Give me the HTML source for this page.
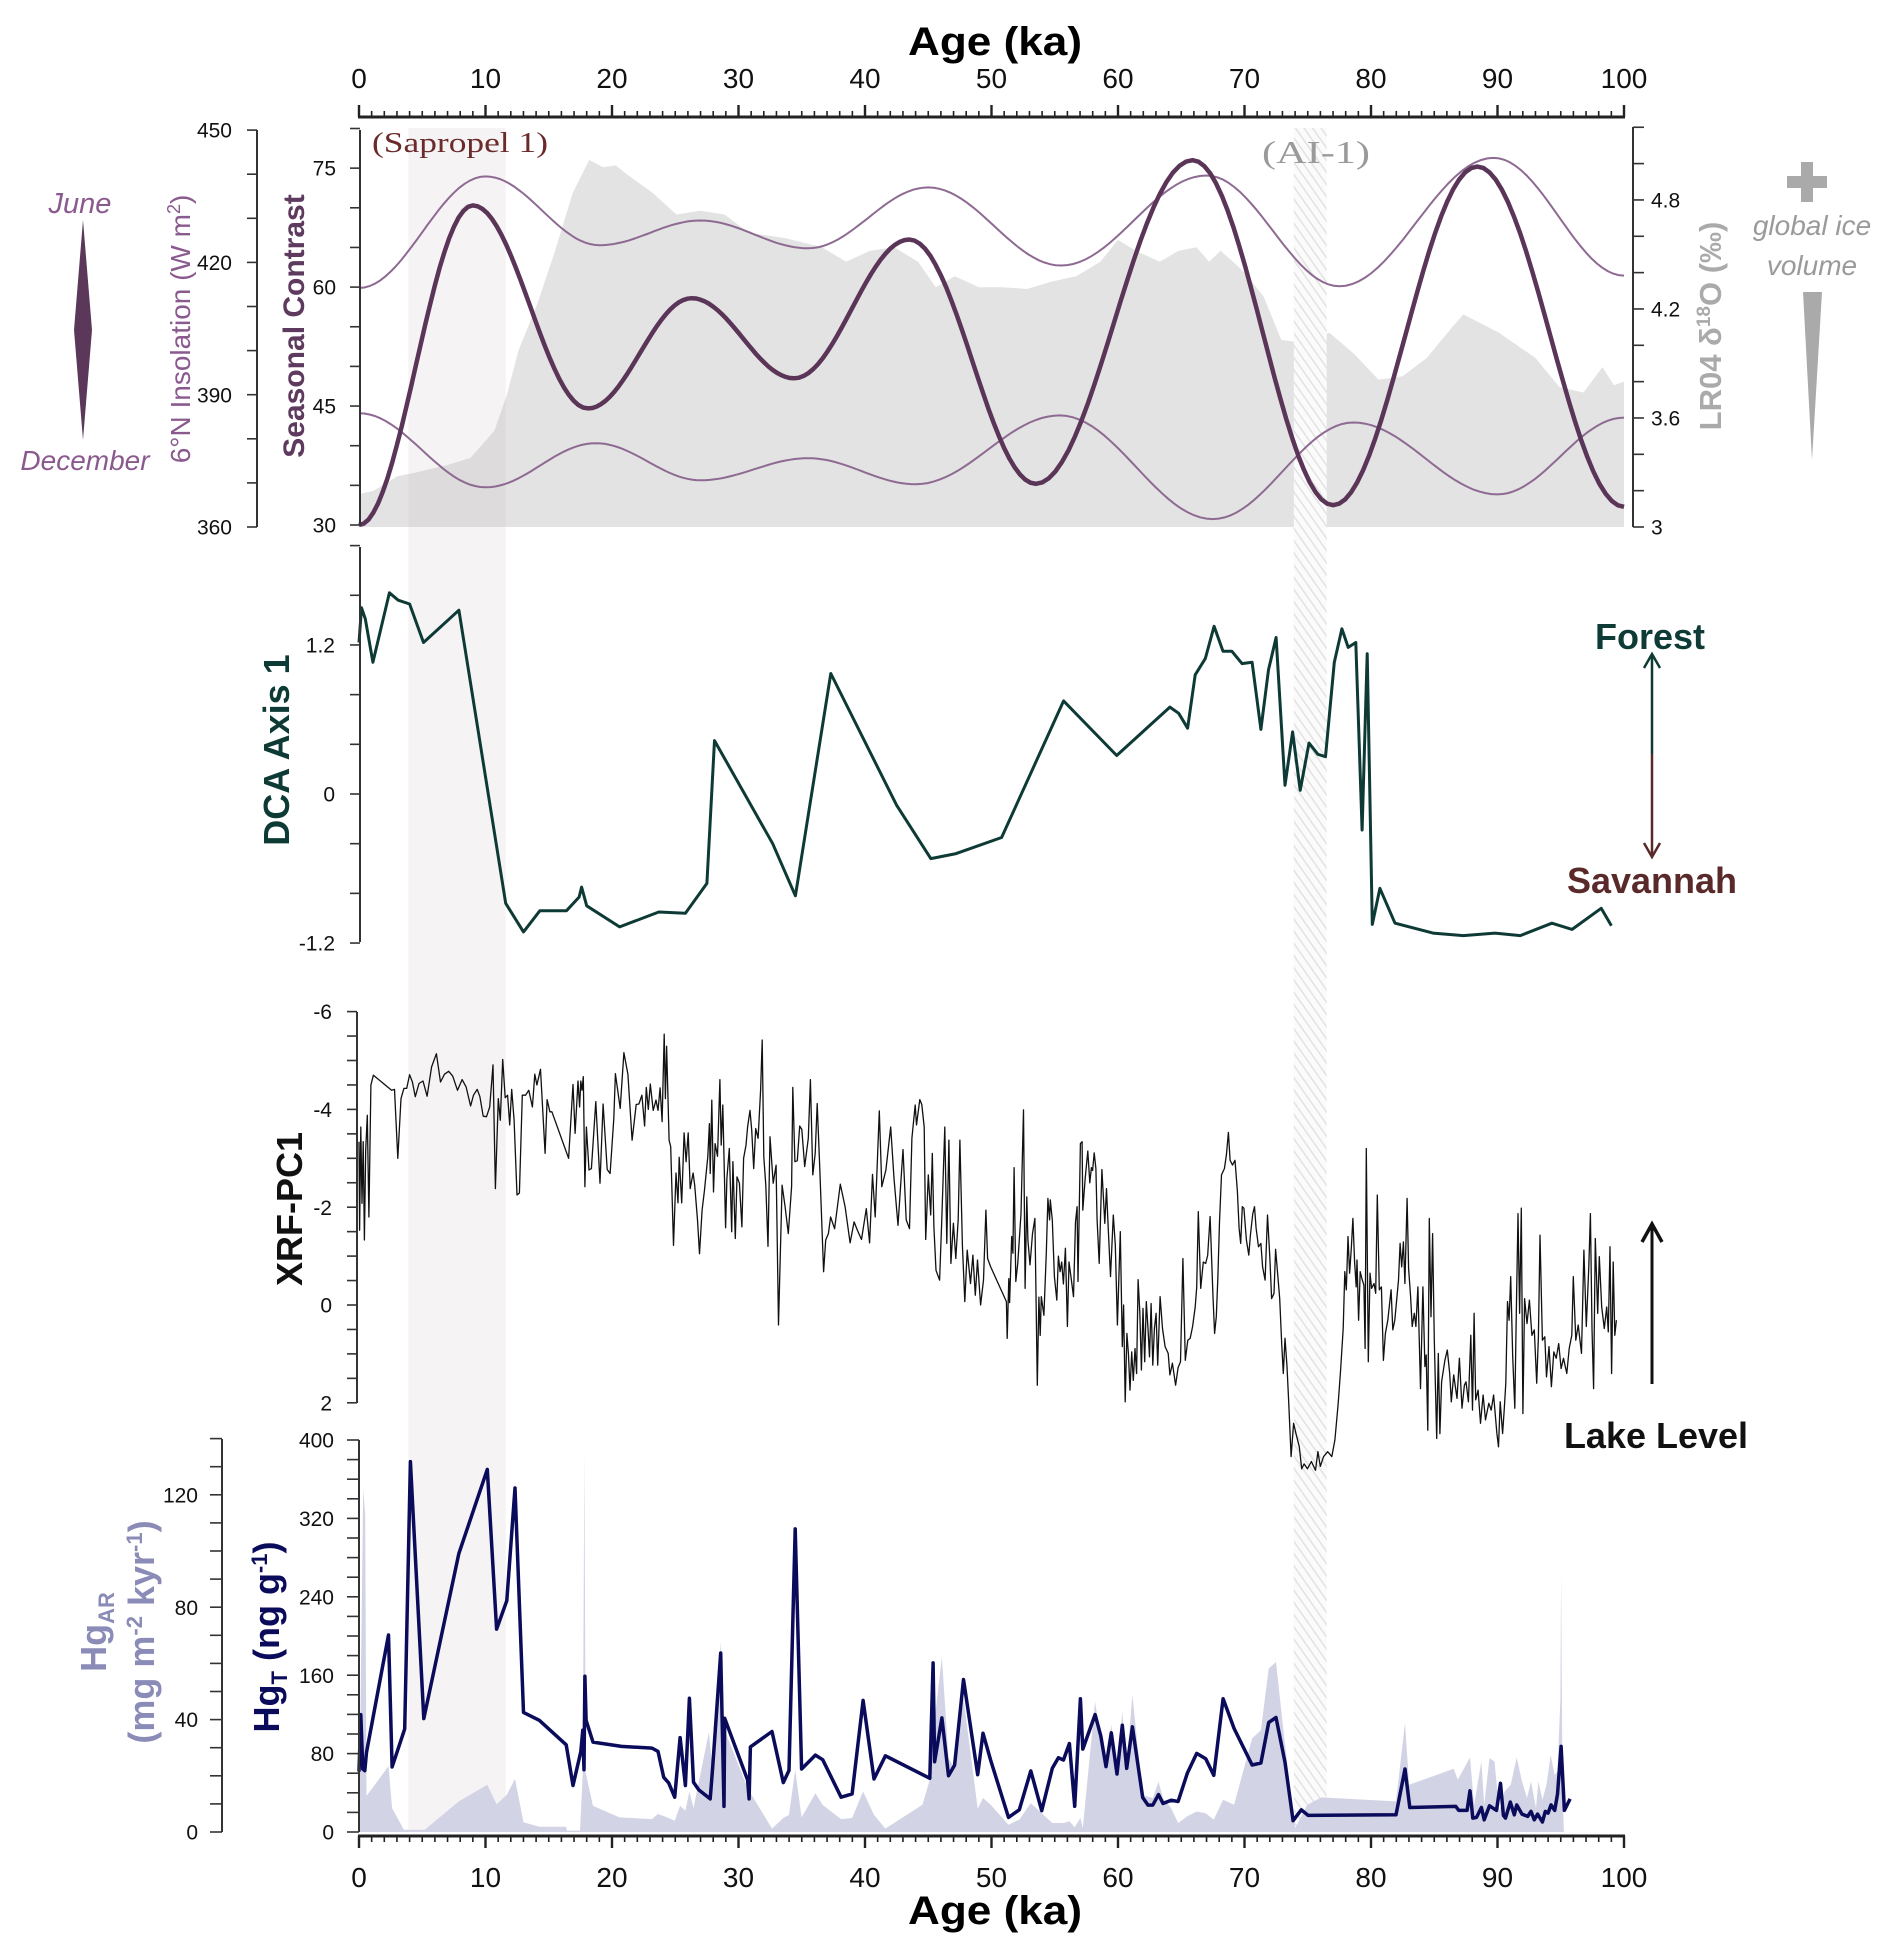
<!DOCTYPE html>
<html><head><meta charset="utf-8"><title>Paleoclimate record</title>
<style>
html,body{margin:0;padding:0;background:#fff;}
svg{display:block;font-family:"Liberation Sans",Arial,sans-serif;}
</style></head>
<body>
<svg id="fig" xmlns="http://www.w3.org/2000/svg" width="1892" height="1957" viewBox="0 0 1892 1957">
<defs>
<pattern id="hatch" patternUnits="userSpaceOnUse" width="7" height="7" patternTransform="rotate(-35)">
<rect width="7" height="7" fill="#fbfbfb"/><line x1="0" y1="0" x2="0" y2="7" stroke="#e2e2e2" stroke-width="3"/>
</pattern>
</defs>
<g id="bg"></g>
<g id="marks"></g>
<g id="axes"></g>
<g id="labels"></g>
</svg>
<script>
// ---------- Top panel data ----------
const lrAges = [0,1.15,3.06,4.5,6.9,8.8,10.7,11.7,12.6,14.1,15.5,16.9,18.2,19.3,20.3,21.2,23.2,25.1,27.0,28.9,30.8,33.7,36.6,38.5,40.4,42.3,44.2,45.6,47.1,49.0,50.9,52.8,54.7,56.7,58.6,60.0,61.4,63.3,64.8,66.2,67.2,68.1,69.1,70.0,71.5,72.9,74.8,76.7,78.7,80.6,82.5,84.4,86.3,87.3,90.1,93.0,94.9,96.8,98.3,99.2,100];
const lrVals = [3.18,3.20,3.28,3.30,3.34,3.38,3.53,3.73,3.97,4.23,4.52,4.84,5.02,4.98,4.99,4.94,4.84,4.72,4.74,4.72,4.62,4.59,4.54,4.46,4.52,4.54,4.46,4.32,4.38,4.32,4.32,4.31,4.35,4.38,4.46,4.58,4.52,4.46,4.52,4.54,4.46,4.52,4.46,4.40,4.27,4.03,4.01,4.07,3.95,3.81,3.83,3.93,4.09,4.17,4.07,3.93,3.77,3.74,3.88,3.78,3.80];
const juneAges = [0,10,19,27,35.5,45,55.5,67,77.5,89.7,100];
const juneVals = [414.2,439.5,423.9,429.5,423.2,437,419.3,439.7,414.6,443.7,417];
const decAges = [0,10,18.7,27,35.5,44,55.4,67.5,78.6,90,100];
const decVals = [385.8,369,379,370.6,375.6,369.7,385.3,361.8,383.7,367.4,384.8];
const scAges = [0,9,18.1,26.3,34.4,43.5,53.5,65.9,77,88.4,100];
const scVals = [30,70.3,44.7,58.6,48.5,66,35.2,76,32.5,75.2,32.3];
// ---------- DCA ----------
const dcaAges = [0,0.2,0.5,1.1,2.4,3.1,4.0,5.1,7.9,11.6,13.0,14.3,16.4,17.4,17.6,18.0,20.6,23.7,25.8,27.5,28.1,32.7,34.5,37.3,42.5,45.2,47.2,50.8,55.7,59.9,64.1,64.8,65.5,66.1,66.9,67.6,68.3,69.0,69.8,70.6,71.3,71.9,72.5,73.2,73.8,74.4,75.1,75.8,76.4,77.1,77.7,78.2,78.8,79.3,79.7,80.1,80.7,81.9,84.9,87.3,89.8,91.8,94.3,95.9,98.2,99.0];
const dcaVals = [1.22,1.5,1.41,1.06,1.62,1.56,1.53,1.22,1.48,-0.88,-1.11,-0.94,-0.94,-0.83,-0.75,-0.9,-1.07,-0.95,-0.96,-0.72,0.43,-0.4,-0.82,0.97,-0.09,-0.52,-0.48,-0.35,0.75,0.31,0.7,0.65,0.53,0.96,1.09,1.35,1.15,1.15,1.05,1.06,0.52,1.0,1.26,0.07,0.5,0.03,0.41,0.32,0.3,1.06,1.33,1.18,1.22,-0.29,1.13,-1.05,-0.76,-1.04,-1.12,-1.14,-1.12,-1.14,-1.04,-1.09,-0.92,-1.06];
// ---------- XRF-PC1 ----------
const xrfAges = [0,0.05,0.14,0.24,0.33,0.43,0.53,0.66,0.78,0.94,1.14,2.58,2.81,3.07,3.32,3.55,3.77,4.00,4.22,4.45,4.74,5.06,5.38,5.74,6.12,6.44,6.76,7.09,7.41,7.79,8.15,8.47,8.82,9.05,9.34,9.56,9.82,10.08,10.33,10.59,10.78,11.01,11.17,11.36,11.56,11.75,11.91,12.07,12.26,12.49,12.68,12.91,13.16,13.42,13.71,13.9,14.06,14.35,14.71,14.87,15.09,15.25,16.57,16.92,17.08,17.31,17.44,17.53,17.63,17.73,17.86,17.98,18.18,18.37,18.72,19.05,19.30,19.62,19.85,20.14,20.27,20.65,20.94,21.26,21.59,21.91,22.13,22.36,22.58,22.71,22.87,23.03,23.26,23.48,23.64,23.80,23.96,24.13,24.22,24.32,24.51,24.64,24.86,25.06,25.22,25.31,25.51,25.70,25.86,26.02,26.18,26.41,26.54,26.76,26.92,27.12,27.31,27.57,27.70,27.76,27.89,28.02,28.15,28.34,28.53,28.63,28.76,28.98,29.08,29.27,29.46,29.56,29.75,29.88,30.07,30.27,30.40,30.59,30.72,30.91,31.04,31.2,31.36,31.55,31.75,31.87,32.0,32.16,32.33,32.49,32.74,32.97,33.16,33.45,33.68,33.94,34.2,34.29,34.46,34.65,34.84,35.0,35.23,35.52,35.68,35.87,36.06,36.22,36.41,36.73,36.89,37.11,37.28,37.6,38.05,38.43,38.82,39.14,39.4,39.72,40.1,40.36,40.59,40.81,41.13,41.33,41.65,42.03,42.29,42.61,43.0,43.26,43.52,43.71,43.97,44.07,44.33,44.49,44.68,44.8,45.0,45.19,45.32,45.45,45.61,45.9,46.06,46.31,46.47,46.63,46.79,46.99,47.18,47.37,47.5,47.7,47.89,48.08,48.34,48.53,48.72,48.89,49.14,49.37,49.56,49.69,49.94,
51.18,51.24,51.37,51.43,51.6,51.69,51.79,51.92,52.08,52.33,52.53,52.66,52.79,52.88,53.04,53.24,53.43,53.62,53.75,53.85,53.94,54.14,54.33,54.46,54.59,54.65,54.81,54.97,55.16,55.29,55.42,55.55,55.68,55.84,56.0,56.13,56.32,56.48,56.64,56.77,56.84,57.03,57.16,57.22,57.41,57.61,57.77,57.9,57.99,58.12,58.25,58.35,58.51,58.73,58.96,59.09,59.22,59.41,59.63,59.79,59.95,60.18,60.34,60.44,60.57,60.7,60.82,60.95,61.08,61.21,61.34,61.47,61.59,61.72,61.85,61.98,62.11,62.24,62.37,62.49,62.62,62.75,62.88,63.01,63.14,63.33,63.52,63.72,63.97,64.1,64.3,64.55,64.75,64.94,65.13,65.32,65.52,65.71,65.9,66.1,66.22,66.35,66.54,66.74,66.93,67.09,67.28,67.51,67.64,67.77,67.9,68.02,68.18,68.41,68.57,68.73,68.86,69.05,69.25,69.44,69.57,69.7,69.83,69.95,70.15,70.34,70.47,70.66,70.79,70.92,71.11,71.3,71.43,71.63,71.82,72.01,72.14,72.33,72.46,72.62,72.78,72.94,73.07,73.2,73.36,73.49,73.68,73.88,74.07,74.33,74.52,74.71,74.97,75.29,75.61,75.8,75.99,76.25,76.58,76.9,77.15,77.41,77.6,77.8,77.93,78.05,78.18,78.31,78.44,78.57,78.7,78.83,78.89,79.02,79.15,79.31,79.44,79.53,79.63,79.79,79.92,80.05,80.24,80.37,80.5,80.66,80.82,80.98,81.14,81.33,81.59,81.72,81.88,82.17,82.3,82.43,82.56,82.68,82.85,82.97,83.13,83.26,83.42,83.55,83.71,83.91,84.1,84.26,84.36,84.49,84.61,84.74,84.87,85.0,85.19,85.32,85.45,85.58,85.84,86.03,86.22,86.35,86.54,86.8,86.99,87.19,87.38,87.51,87.7,87.89,88.02,88.15,88.28,88.47,88.66,88.86,89.05,89.31,89.5,89.69,89.95,90.08,90.21,90.4,90.53,90.66,90.79,90.92,91.04,91.2,91.37,91.49,91.62,91.75,91.88,92.01,92.14,92.33,92.52,92.72,92.91,93.1,93.23,93.36,93.55,93.74,93.87,94.07,94.26,94.45,94.64,94.84,95.03,95.22,95.48,95.67,95.87,95.99,96.19,96.38,96.64,96.83,97.02,97.22,97.34,97.47,97.6,97.73,97.92,98.05,98.24,98.44,98.63,98.76,98.89,99.02,99.15,99.27,99.4];
const xrfVals = [-3.34,-1.53,-3.64,-2.08,-3.34,-1.33,-3.17,-3.88,-1.80,-4.50,-4.70,-4.39,-4.41,-3.00,-4.22,-4.43,-4.43,-4.71,-4.56,-4.26,-4.53,-4.58,-4.27,-4.87,-5.14,-4.56,-4.72,-4.78,-4.68,-4.39,-4.61,-4.46,-4.07,-4.29,-4.41,-4.26,-3.86,-3.85,-4.05,-4.91,-2.38,-4.22,-3.78,-5.02,-4.24,-4.29,-3.68,-4.41,-3.78,-2.25,-2.29,-4.29,-4.29,-4.39,-4.05,-4.72,-4.50,-4.82,-3.10,-4.20,-3.95,-3.95,-3.00,-4.51,-3.51,-4.58,-4.05,-4.58,-4.39,-4.67,-2.42,-3.64,-2.76,-2.79,-4.16,-2.49,-4.11,-2.77,-2.69,-3.81,-4.73,-4.02,-5.16,-4.72,-3.37,-4.10,-4.11,-4.29,-3.66,-4.45,-4.00,-4.52,-3.98,-4.19,-3.98,-4.44,-3.75,-5.54,-4.22,-5.29,-3.37,-3.24,-1.22,-2.70,-2.09,-3.02,-2.09,-3.52,-2.93,-3.52,-2.38,-2.70,-2.45,-1.74,-1.05,-1.94,-2.35,-3.03,-3.71,-2.69,-4.19,-2.31,-3.30,-3.04,-4.61,-3.27,-4.09,-1.58,-2.59,-3.20,-1.50,-2.93,-1.36,-2.62,-2.49,-1.60,-3.00,-3.27,-3.64,-3.98,-3.58,-2.79,-3.61,-3.41,-4.39,-5.42,-3.03,-2.45,-1.20,-3.44,-2.49,-2.86,0.41,-2.45,-2.01,-1.46,-2.42,-4.45,-2.93,-2.95,-3.66,-3.59,-2.83,-3.41,-4.61,-2.66,-3.10,-4.12,-2.89,-0.68,-1.33,-1.46,-1.80,-1.56,-2.47,-2.01,-1.27,-1.70,-1.53,-1.34,-1.97,-1.27,-2.67,-1.80,-3.97,-2.42,-2.76,-3.64,-2.59,-1.63,-3.18,-1.74,-1.56,-3.41,-4.09,-3.68,-4.20,-4.10,-3.64,-1.34,-2.66,-1.84,-3.10,-1.60,-0.71,-0.51,-1.70,-3.64,-1.26,-3.37,-0.85,-1.67,-0.95,-1.75,-3.37,-1.22,-0.07,-1.12,-0.44,-1.02,-0.20,-0.92,0.00,-0.51,-1.94,-0.95,-0.78,
-0.07,0.68,-0.54,-0.05,-1.40,-1.06,-2.81,-0.48,-0.86,-1.87,-3.99,-0.34,-2.21,-1.33,-0.82,-1.46,-1.77,1.64,-0.16,0.62,-0.17,0.21,-1.06,-2.18,-1.74,-2.15,-1.74,-0.58,-0.10,-1.00,-0.68,-0.88,-0.43,-1.16,0.44,-0.88,-0.51,-0.17,-1.70,-2.01,-0.48,-3.30,-3.34,-1.94,-2.59,-3.15,-2.50,-2.81,-2.75,-3.11,-2.79,-1.74,-0.85,-2.77,-1.67,-2.38,-1.63,-0.58,-1.84,-1.23,0.41,-1.50,0.85,0.00,1.98,0.58,0.99,1.74,0.96,1.54,0.89,1.40,-0.52,0.14,1.33,0.07,1.16,-0.07,0.48,1.06,-0.03,1.23,0.48,0.17,1.23,-0.17,0.48,0.85,0.99,1.43,1.19,1.64,1.28,1.16,-0.95,1.13,0.72,0.68,0.44,0.04,-0.36,-1.91,-0.34,-0.88,-0.85,-1.02,-1.81,-0.17,0.58,0.24,-0.58,-1.70,-2.66,-2.79,-3.07,-3.53,-2.96,-2.86,-2.96,-2.32,-1.57,-1.26,-2.01,-1.98,-1.33,-1.02,-1.43,-1.87,-2.01,-1.57,-1.19,-1.26,-0.78,-0.51,-1.84,-0.95,-0.13,-0.24,-1.14,-0.65,-0.13,0.79,1.40,0.68,1.26,1.94,3.10,2.42,2.63,2.90,3.35,3.25,3.35,3.2,3.38,3.0,3.3,3.1,3.0,3.1,2.76,2.01,1.33,0.48,-0.68,-0.31,-1.40,-0.65,-1.16,-1.77,-0.88,-0.37,-0.92,0.31,-0.68,-0.51,-0.41,0.89,-3.20,1.16,-0.65,-0.34,-0.44,-0.24,-2.25,-0.31,-0.37,1.13,0.58,0.31,-0.31,0.51,0.31,-0.51,-1.26,-0.78,-1.29,-0.44,-2.18,-0.75,-0.17,0.44,0.17,0.44,-0.37,1.71,-0.37,1.26,1.02,2.56,-1.77,0.24,-1.46,0.72,2.73,0.99,2.63,1.57,1.13,0.92,1.40,1.98,1.43,1.91,1.09,2.11,1.64,1.57,1.98,0.62,2.15,0.17,1.94,1.74,2.42,1.84,2.35,2.01,2.15,1.84,2.63,2.90,1.98,2.63,2.15,1.60,-0.07,0.31,-0.58,1.06,2.11,0.17,-1.87,0.17,-1.98,2.22,-0.13,0.38,-0.10,0.62,0.51,1.60,0.65,-1.43,0.72,0.65,1.47,0.85,1.67,0.96,1.09,0.79,1.30,1.09,1.40,0.89,0.62,-0.58,0.72,0.41,0.99,-1.12,0.44,-0.78,-1.87,0.48,1.71,-1.36,0.17,-0.99,0.04,0.48,0.04,0.55,-1.19,1.40,-0.88,0.62,0.31];
// ---------- Hg ----------
const hgtAges = [0,0.14,0.30,0.46,0.59,2.33,2.62,3.61,4.06,5.12,7.89,10.14,10.88,11.68,12.33,13.0,14.25,16.38,16.92,17.53,17.69,17.79,17.86,17.95,18.5,20.75,23.16,23.64,24.09,24.48,24.96,25.38,25.8,26.12,26.44,26.86,27.76,27.95,28.59,28.85,28.91,30.72,30.84,30.94,32.65,33.54,33.99,34.48,34.99,36.08,36.66,38.11,38.98,39.85,40.71,41.61,45.12,45.38,45.5,46.08,46.6,47.08,47.79,48.91,49.33,49.94,51.34,52.2,53.11,53.97,54.81,55.29,55.68,56.16,56.58,57.03,57.22,58.19,58.64,59.05,59.47,59.92,60.34,60.69,61.14,61.95,62.37,62.75,63.2,63.56,64.2,64.75,65.48,66.22,66.93,67.57,68.31,69.18,70.6,71.3,71.91,72.49,73.2,73.84,74.49,75.03,81.98,82.69,83.07,86.7,86.93,87.6,87.83,88.05,88.34,88.73,88.95,89.37,89.92,90.24,90.47,90.63,91.01,91.33,91.52,91.94,92.39,92.65,92.91,93.17,93.55,93.78,94.0,94.23,94.52,94.74,95.03,95.29,95.74];
const hgtVals = [61.6,119.8,64.3,62.6,81.2,201,66.3,105.2,378,115.7,284,370,207,236,351,122,114,89,47.4,81.9,104,63.6,159,114,91.7,87.3,85.6,82.2,55.8,50.1,35.5,96.3,47.4,136.5,50.8,43.0,33.8,64.9,182.7,26.1,116,53.1,33.8,86.8,102.5,50.4,62.9,309.3,64.3,78.5,73.8,35.5,38.9,134.3,54.1,77.8,54.8,172.6,71.7,116.4,57.5,68.3,155.6,58.5,100.8,73.1,14.9,22.7,62.3,21.7,65,75.8,73.4,90.3,26.2,136,84.6,119.8,98.1,66.7,101.2,59.2,108.9,64.9,107.3,35.2,27.4,27.4,38.2,29.1,32.5,31.1,59.9,80.2,74.8,57.9,136,105.6,68.4,70.4,111.7,116.8,71.1,11.5,22.7,16.9,17.6,64.3,25.0,26.1,22.0,22.0,42.0,14.2,14.9,25.0,12.5,26.7,22.0,49.7,16.9,14.2,30.5,17.6,27.7,18.3,15.9,21.0,12.5,18.3,10.2,21.0,19.3,27.7,22.0,38.6,87.3,22.0,33.8];
const hgarAges = [0,0.33,0.49,0.59,2.33,2.62,3.55,5.19,7.89,10.14,10.88,11.68,12.33,13.0,14.25,16.38,16.44,17.47,17.69,17.82,17.92,18.5,20.59,23.16,23.64,24.48,24.96,25.38,25.8,26.12,26.44,27.66,27.95,28.59,28.85,30.72,32.65,33.54,33.99,34.48,34.99,36.08,36.66,38.11,38.98,39.85,40.71,41.61,44.54,45.12,45.38,46.08,46.6,47.08,47.79,48.91,49.33,49.94,51.34,52.2,53.11,53.97,54.81,55.68,56.16,56.58,57.03,57.22,57.45,58.19,58.64,59.05,59.47,59.92,60.34,60.69,61.14,61.95,62.75,63.2,63.56,64.2,64.75,65.48,66.22,66.93,67.57,68.31,69.18,70.6,71.3,71.91,72.49,73.2,74.0,74.97,76.09,81.98,82.69,83.01,86.54,86.86,87.83,88.15,88.73,88.95,89.37,89.76,90.14,90.56,91.04,91.52,91.94,92.33,92.65,93.04,93.23,93.55,93.87,94.2,94.52,94.74,94.97,95.03,95.13,95.23,95.26];
const hgarVals = [0.8,122,113,12.8,23.4,8.5,0.8,0.8,10.9,16.8,9.9,13.2,18.9,3.5,1.9,1.9,0.5,0.5,21,135,21,9.3,5.2,4.6,6.4,5.0,4.0,9.3,7.6,14.4,8.5,35.5,21.5,67.6,36.9,15.6,1.2,5.0,6.1,22.1,5.2,13.8,9.6,4.6,5.0,14.4,6.1,1.2,9.7,18.6,35.5,62.2,26.2,22.7,47.5,8.3,12.1,9.7,2.6,4.4,10.3,6.7,3.2,3.2,3.8,1.7,5.0,1.4,12.1,46.4,33.3,23.3,38.1,21.5,42.8,23.9,48.7,13.2,12.1,17.9,12.1,8.5,3.2,5.6,7.3,6.7,4.4,11.5,9.7,33.3,36.2,58.2,60.5,31.0,1.4,9.7,12.3,10.9,38.8,16.8,22.5,18.6,26.5,9.7,25.1,9.7,26.3,25.1,7.3,14.4,16.8,26.5,18.0,12.1,18.0,8.5,18.0,11.5,16.8,27.4,20.3,21.5,47.5,92,20,1.4,0];
// ---------- tick labels ----------
const ageTicks = [0,10,20,30,40,50,60,70,80,90,100];
const insTicks = [450,420,390,360];
const scTicks = [75,60,45,30];
const lrTicks = [4.8,4.2,3.6,3];
const dcaTicks = [1.2,0,-1.2];
const xrfTicks = [-6,-4,-2,0,2];
const hgtTicks = [400,320,240,160,80,0];
const hgarTicks = [120,80,40,0];

// ---------- scales ----------
const X = a => 359 + a*12.65;
const Yins = v => 527 - (v-360)*4.41;
const Ysc = v => 525 - (v-30)*7.93;
const Ylr = v => 527 - (v-3)*181.7;
const Yd = v => 794 - v*124.2;
const Yx = v => 1305 + v*48.9;
const Yt = v => 1832 - v*0.98;
const Ya = v => 1832 - v*2.81;

const NS = "http://www.w3.org/2000/svg";
function mk(tag, attrs, parent){ const e=document.createElementNS(NS,tag); for(const k in attrs) e.setAttribute(k,attrs[k]); parent.appendChild(e); return e; }
const gBg=document.getElementById('bg'), gM=document.getElementById('marks'), gA=document.getElementById('axes'), gL=document.getElementById('labels');
function linePath(xs, ys, fx, fy){ return xs.map((a,i)=>(i?'L':'M')+fx(a).toFixed(1)+','+fy(ys[i]).toFixed(1)).join(''); }
function cosPath(xs, ys, fx, fy){ let d='M'+fx(xs[0]).toFixed(1)+','+fy(ys[0]).toFixed(1);
  for(let i=0;i<xs.length-1;i++){ for(let k=1;k<=24;k++){ const t=k/24; const a=xs[i]+(xs[i+1]-xs[i])*t; const w=(1-Math.cos(Math.PI*t))/2; const v=ys[i]+(ys[i+1]-ys[i])*w; d+='L'+fx(a).toFixed(1)+','+fy(v).toFixed(1);} } return d; }

// ---------- top panel gray LR04 fill ----------
let p = mk('path',{d:linePath(lrAges,lrVals,X,Ylr)+'L'+X(100)+','+Ylr(3)+'L'+X(0)+','+Ylr(3)+'Z',fill:'#e3e3e3'},gBg);


// sapropel band
let r = mk('rect',{x:X(3.9),y:128,width:X(11.6)-X(3.9),height:1832-128,fill:'rgb(200,185,195)','fill-opacity':'0.17'},gBg);


// AI-1 hatched band
r = mk('rect',{x:X(73.9),y:128,width:X(76.5)-X(73.9),height:1832-128,fill:'url(#hatch)'},gBg);



// insolation curves
p = mk('path',{d:cosPath(juneAges,juneVals,X,Yins),fill:'none',stroke:'#8e6a92','stroke-width':2},gM);


p = mk('path',{d:cosPath(decAges,decVals,X,Yins),fill:'none',stroke:'#8e6a92','stroke-width':2},gM);


p = mk('path',{d:cosPath(scAges,scVals,X,Ysc),fill:'none',stroke:'#5a3558','stroke-width':4.5},gM);



// DCA
p = mk('path',{d:linePath(dcaAges,dcaVals,X,Yd),fill:'none',stroke:'#0e3a36','stroke-width':3,'stroke-linejoin':'round'},gM);


// XRF
p = mk('path',{d:linePath(xrfAges,xrfVals,X,Yx),fill:'none',stroke:'#111','stroke-width':1.3,'stroke-linejoin':'round'},gM);


// Hg AR area
p = mk('path',{d:linePath(hgarAges,hgarVals,X,Ya)+'L'+X(hgarAges[hgarAges.length-1])+','+Ya(0)+'L'+X(0)+','+Ya(0)+'Z',fill:'#d3d3e6'},gM);


// Hg T line
p = mk('path',{d:linePath(hgtAges,hgtVals,X,Yt),fill:'none',stroke:'#0b0b5c','stroke-width':3.5,'stroke-linejoin':'round'},gM);



// ---------- axes ----------
function txt(s, x, y, attrs, name){ const t=mk('text',Object.assign({x:x,y:y},attrs),gL); t.textContent=s;   return t; }
function vAxis(name, x, y0, y1, tickVals, fy, labels, lx, fmt, fs, tickLen){
  const g=mk('g',{},gA);
  
  
  mk('line',{x1:x,y1:y0,x2:x,y2:y1,stroke:'#333','stroke-width':2},g);
  tickVals.forEach(v=>{ const y=fy(v); mk('line',{x1:x-tickLen,y1:y,x2:x,y2:y,stroke:'#333','stroke-width':1.6},g); });
  labels.forEach(v=>{ const t=mk('text',{x:lx,y:fy(v)+fs*0.36,'font-size':fs,'text-anchor':'end',fill:'#111'},g); t.textContent=fmt(v); });
  return g;
}
function range(a,b,s){ const o=[]; for(let v=a; v<=b+1e-9; v+=s) o.push(+v.toFixed(4)); return o; }
vAxis('insolation-axis',257,130,527,range(360,450,10),Yins,insTicks,232,v=>v,21,10);
vAxis('seasonal-contrast-axis',360,130,525,range(30,80,5),Ysc,scTicks,336,v=>v,21,10);
// right LR04 axis
(function(){ const g=mk('g',{},gA);
  
  
  mk('line',{x1:1633,y1:127,x2:1633,y2:527,stroke:'#333','stroke-width':2},g);
  range(3,5.2,0.2).forEach(v=>mk('line',{x1:1633,y1:Ylr(v),x2:1644,y2:Ylr(v),stroke:'#333','stroke-width':1.6},g));
  lrTicks.forEach(v=>{ const t=mk('text',{x:1651,y:Ylr(v)+7.5,'font-size':21,fill:'#111'},g); t.textContent=String(v); });
})();
vAxis('dca-axis',360,547,942,range(-1.2,2.0,0.4),Yd,dcaTicks,335,v=>v,21,10);
vAxis('xrf-axis',357,1012,1403,range(-6,2,0.5),Yx,xrfTicks,332,v=>v,21,10);
vAxis('hg-t-axis',359,1440,1832,range(0,400,20),Yt,hgtTicks,334,v=>v,21,12);
vAxis('hg-ar-axis',222,1439,1832,range(0,140,10),Ya,hgarTicks,198,v=>v,21,12);

// x axes
function xAxis(name, y, dir, labY){
  const g=mk('g',{},gA);
  
  
  mk('line',{x1:X(0)-1,y1:y,x2:X(100)+1,y2:y,stroke:'#222','stroke-width':3},g);
  for(let a=0;a<=100;a++){ const L=(a%10===0)?12:6; mk('line',{x1:X(a),y1:y,x2:X(a),y2:y+dir*L,stroke:'#222','stroke-width':(a%10===0)?2.4:1.6},g); }
  ageTicks.forEach(a=>{ const t=mk('text',{x:X(a),y:labY,'font-size':28,'text-anchor':'middle',fill:'#111'},g); t.textContent=a; });
}
xAxis('top-age-axis',117,-1,88);
xAxis('bottom-age-axis',1836,1,1887);

// ---------- labels ----------
txt('Age (ka)',995,55,{'font-size':40,'font-weight':'bold','text-anchor':'middle',textLength:174,lengthAdjust:'spacingAndGlyphs'},'top-x-axis-title');
txt('Age (ka)',995,1924,{'font-size':40,'font-weight':'bold','text-anchor':'middle',textLength:174,lengthAdjust:'spacingAndGlyphs'},'bottom-x-axis-title');
txt('(Sapropel 1)',372,152,{'font-size':28,'font-family':'"Liberation Serif",serif',fill:'#6b2b2b',textLength:176,lengthAdjust:'spacingAndGlyphs'},'sapropel-1-label');
txt('(AI-1)',1262,163,{'font-size':32,'font-family':'"Liberation Serif",serif',fill:'#9a9a9a',textLength:108,lengthAdjust:'spacingAndGlyphs'},'ai-1-label');
txt('June',80,213,{'font-size':29,'font-style':'italic','text-anchor':'middle',fill:'#8a5a8e'},'june-label');
txt('December',85,470,{'font-size':28,'font-style':'italic','text-anchor':'middle',fill:'#8a5a8e'},'december-label');
let d = mk('path',{d:'M83,220 L92,330 L83,440 L74,330 Z',fill:'#5b3759'},gL);


let t = mk('text',{x:0,y:0,'font-size':28,'text-anchor':'middle',fill:'#8a5a8e',transform:'translate(190,329) rotate(-90)'},gL);


t.innerHTML='6°N Insolation (W m<tspan font-size="18" dy="-10">2</tspan><tspan dy="10">)</tspan>';
t = mk('text',{x:0,y:0,'font-size':30,'font-weight':'bold','text-anchor':'middle',fill:'#5e3a5e',transform:'translate(304,326) rotate(-90)'},gL);


t.textContent='Seasonal Contrast';
t = mk('text',{x:0,y:0,'font-size':31,'font-weight':'bold','text-anchor':'middle',fill:'#aaaaaa',transform:'translate(1721,326) rotate(-90)'},gL);


t.innerHTML='LR04 δ<tspan font-size="19" dy="-11">18</tspan><tspan dy="11">O (‰)</tspan>';
d = mk('path',{d:'M1801,162 h12 v14 h14 v12 h-14 v14 h-12 v-14 h-14 v-12 h14 Z',fill:'#aaaaaa'},gL);


txt('global ice',1812,235,{'font-size':28,'font-style':'italic','text-anchor':'middle',fill:'#9a9a9a'},'global-ice-label');
txt('volume',1812,275,{'font-size':28,'font-style':'italic','text-anchor':'middle',fill:'#9a9a9a'},'volume-label');
d = mk('path',{d:'M1803,292 L1822,292 L1812,460 Z',fill:'#aaaaaa'},gL);



t = mk('text',{x:0,y:0,'font-size':36,'font-weight':'bold','text-anchor':'middle',fill:'#0e3a36',transform:'translate(289,750) rotate(-90)'},gL);


t.textContent='DCA Axis 1';
txt('Forest',1650,649,{'font-size':36,'font-weight':'bold','text-anchor':'middle',fill:'#0f3b36'},'forest-label');
txt('Savannah',1652,893,{'font-size':36,'font-weight':'bold','text-anchor':'middle',fill:'#5a2a2a'},'savannah-label');
d = mk('g',{},gL);


mk('line',{x1:1652,y1:655,x2:1652,y2:754,stroke:'#0f3b36','stroke-width':2.5},d);
mk('line',{x1:1652,y1:754,x2:1652,y2:856,stroke:'#5a2a2a','stroke-width':2.5},d);
mk('path',{d:'M1644,668 L1652,654 L1660,668',fill:'none',stroke:'#0f3b36','stroke-width':2.5},d);
mk('path',{d:'M1644,843 L1652,857 L1660,843',fill:'none',stroke:'#5a2a2a','stroke-width':2.5},d);

t = mk('text',{x:0,y:0,'font-size':36,'font-weight':'bold','text-anchor':'middle',fill:'#111',transform:'translate(302,1209) rotate(-90)'},gL);


t.textContent='XRF-PC1';
d = mk('g',{},gL);


mk('line',{x1:1652,y1:1226,x2:1652,y2:1384,stroke:'#111','stroke-width':3},d);
mk('path',{d:'M1642,1242 L1652,1224 L1662,1242',fill:'none',stroke:'#111','stroke-width':3.5},d);
txt('Lake Level',1656,1448,{'font-size':36,'font-weight':'bold','text-anchor':'middle',fill:'#111'},'lake-level-label');

t = mk('text',{x:0,y:0,'font-size':36,'font-weight':'bold','text-anchor':'middle',fill:'#0b0b5c',transform:'translate(279,1637) rotate(-90)'},gL);


t.innerHTML='Hg<tspan font-size="22" dy="8">T</tspan><tspan dy="-8"> (ng g</tspan><tspan font-size="22" dy="-12">-1</tspan><tspan dy="12">)</tspan>';
t = mk('text',{x:0,y:0,'font-size':36,'font-weight':'bold','text-anchor':'middle',fill:'#8b8bb8',transform:'translate(106,1632) rotate(-90)'},gL);


t.innerHTML='Hg<tspan font-size="22" dy="8">AR</tspan>';
t = mk('text',{x:0,y:0,'font-size':36,'font-weight':'bold','text-anchor':'middle',fill:'#8b8bb8',transform:'translate(154,1632) rotate(-90)'},gL);


t.innerHTML='(mg m<tspan font-size="22" dy="-12">-2</tspan><tspan dy="12"> kyr</tspan><tspan font-size="22" dy="-12">-1</tspan><tspan dy="12">)</tspan>';
</script>
</body></html>
